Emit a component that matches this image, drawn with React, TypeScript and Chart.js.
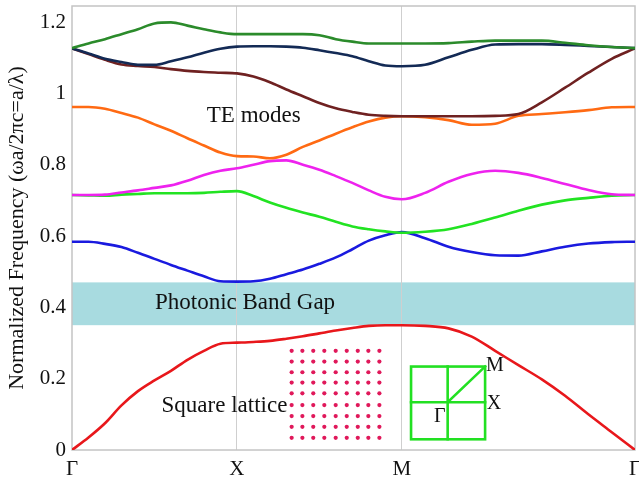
import React, { useEffect, useRef } from "react";
import { Chart, registerables } from "chart.js";

Chart.register(...registerables);

// Wave-vector path positions: Γ(0) → X(1) → M(2) → Γ(2+√2)
const K = [
  0, 0.1, 0.2, 0.3, 0.4, 0.5, 0.6, 0.7, 0.8, 0.9, 1.0,
  1.1, 1.2, 1.3, 1.4, 1.5, 1.6, 1.7, 1.8, 1.9, 2.0,
  2.141, 2.283, 2.424, 2.566, 2.707, 2.849, 2.99, 3.131, 3.273, 3.414,
];
const K_TICKS = [0, 1, 2, 3.414];
const K_LABELS = ["Γ", "X", "M", "Γ"];
const Y_TICKS = [0, 0.2, 0.4, 0.6, 0.8, 1, 1.2];
const Y_MAX = 1.245;

const BAND1 = [0, 0.035, 0.075, 0.125, 0.165, 0.195, 0.222, 0.253, 0.278, 0.298, 0.301,
  0.303, 0.306, 0.312, 0.319, 0.327, 0.335, 0.342, 0.348, 0.35, 0.35,
  0.348, 0.341, 0.318, 0.278, 0.238, 0.198, 0.152, 0.1, 0.05, 0];
const BAND2 = [0.584, 0.584, 0.578, 0.569, 0.553, 0.536, 0.519, 0.503, 0.487, 0.473, 0.472,
  0.473, 0.48, 0.493, 0.506, 0.522, 0.54, 0.563, 0.587, 0.602, 0.611,
  0.594, 0.57, 0.555, 0.546, 0.545, 0.557, 0.57, 0.579, 0.583, 0.584];
const BAND3 = [0.715, 0.714, 0.713, 0.716, 0.718, 0.72, 0.72, 0.72, 0.721, 0.724, 0.726,
  0.712, 0.694, 0.679, 0.666, 0.654, 0.64, 0.627, 0.619, 0.613, 0.609,
  0.612, 0.619, 0.634, 0.652, 0.671, 0.688, 0.7, 0.707, 0.713, 0.715];
const BAND4 = [0.715, 0.715, 0.716, 0.722, 0.728, 0.735, 0.742, 0.755, 0.771, 0.783, 0.79,
  0.8, 0.81, 0.812, 0.8, 0.786, 0.768, 0.749, 0.728, 0.71, 0.703,
  0.721, 0.752, 0.774, 0.783, 0.777, 0.763, 0.746, 0.729, 0.717, 0.715];
const BAND5 = [0.962, 0.962, 0.957, 0.945, 0.932, 0.913, 0.895, 0.874, 0.854, 0.834, 0.824,
  0.823, 0.818, 0.828, 0.85, 0.868, 0.887, 0.905, 0.921, 0.932, 0.936,
  0.933, 0.925, 0.912, 0.915, 0.937, 0.942, 0.947, 0.953, 0.961, 0.962];
const BAND6 = [1.126, 1.11, 1.094, 1.081, 1.077, 1.074, 1.068, 1.063, 1.06, 1.058, 1.056,
  1.047, 1.031, 1.011, 0.992, 0.973, 0.958, 0.948, 0.94, 0.937, 0.936,
  0.936, 0.936, 0.936, 0.937, 0.942, 0.975, 1.016, 1.058, 1.097, 1.126];
const BAND7 = [1.126, 1.112, 1.097, 1.088, 1.08, 1.08, 1.09, 1.101, 1.114, 1.125, 1.131,
  1.132, 1.132, 1.131, 1.128, 1.121, 1.113, 1.104, 1.09, 1.078, 1.076,
  1.08, 1.101, 1.122, 1.137, 1.138, 1.138, 1.136, 1.133, 1.13, 1.127];
const BAND8 = [1.127, 1.14, 1.152, 1.166, 1.18, 1.196, 1.199, 1.19, 1.18, 1.171, 1.166,
  1.166, 1.166, 1.166, 1.166, 1.163, 1.152, 1.145, 1.14, 1.14, 1.14,
  1.14, 1.141, 1.145, 1.148, 1.148, 1.148, 1.142, 1.135, 1.13, 1.127];

const BANDS = [BAND1, BAND2, BAND3, BAND4, BAND5, BAND6, BAND7, BAND8];
const BAND_COLORS = ["#e8171b", "#1a1adf", "#22e322", "#ee22ee", "#ff6a13", "#6f2121", "#132a55", "#2b8b2b"];

// Photonic band gap (normalized frequency)
const GAP = [0.35, 0.47];
const GAP_COLOR = "#a8dbe0";

// Square lattice illustration (rod positions in plot coordinates)
const DOT_K = [1.332, 1.397, 1.463, 1.53, 1.599, 1.666, 1.733, 1.797, 1.864];
const DOT_F = [0.278, 0.248, 0.218, 0.189, 0.159, 0.126, 0.095, 0.065, 0.034];
const DOT_COLOR = "#e0185a";

// Brillouin zone inset
const INSET_K = [2.056, 2.278, 2.505];
const INSET_F = [0.03, 0.134, 0.234];
const INSET_COLOR = "#22e022";
const INSET_LABELS = [
  { text: "M", k: 2.51, f: 0.236 },
  { text: "X", k: 2.515, f: 0.129 },
  { text: "Γ", k: 2.195, f: 0.093 },
];

const NOTES = [
  { text: "TE modes", k: 1.102, f: 0.936, align: "center" },
  { text: "Photonic Band Gap", k: 0.503, f: 0.412, align: "left" },
  { text: "Square lattice", k: 1.306, f: 0.123, align: "right" },
];

const FONT = "'Liberation Serif', 'Times New Roman', serif";

const overlay = {
  id: "overlay",
  beforeDraw(chart: any) {
    const { ctx, chartArea: a, scales } = chart;
    const y = scales.y;
    const yt = y.getPixelForValue(GAP[1]);
    const yb = y.getPixelForValue(GAP[0]);
    ctx.save();
    ctx.fillStyle = GAP_COLOR;
    ctx.fillRect(a.left, yt, a.right - a.left, yb - yt);
    ctx.restore();
  },
  beforeDatasetsDraw(chart: any) {
    const { ctx, chartArea: a } = chart;
    ctx.save();
    ctx.strokeStyle = "#c4c4c4";
    ctx.lineWidth = 1.5;
    ctx.strokeRect(a.left, a.top, a.right - a.left, a.bottom - a.top);
    ctx.restore();
  },
  afterDatasetsDraw(chart: any) {
    const { ctx, scales } = chart;
    const x = scales.x;
    const y = scales.y;
    ctx.save();
    // inset
    const xs = INSET_K.map((v) => x.getPixelForValue(v));
    const ys = INSET_F.map((v) => y.getPixelForValue(v));
    ctx.strokeStyle = INSET_COLOR;
    ctx.lineWidth = 2.6;
    ctx.lineCap = "square";
    ctx.strokeRect(xs[0], ys[2], xs[2] - xs[0], ys[0] - ys[2]);
    ctx.beginPath();
    ctx.moveTo(xs[0], ys[1]);
    ctx.lineTo(xs[2], ys[1]);
    ctx.moveTo(xs[1], ys[0]);
    ctx.lineTo(xs[1], ys[2]);
    ctx.moveTo(xs[1], ys[1]);
    ctx.lineTo(xs[2], ys[2]);
    ctx.stroke();
    ctx.fillStyle = "#111";
    ctx.font = `20px ${FONT}`;
    ctx.textBaseline = "middle";
    ctx.textAlign = "left";
    for (const l of INSET_LABELS) {
      ctx.fillText(l.text, x.getPixelForValue(l.k), y.getPixelForValue(l.f));
    }
    // notes
    ctx.font = `23px ${FONT}`;
    for (const n of NOTES) {
      ctx.textAlign = n.align as CanvasTextAlign;
      ctx.fillText(n.text, x.getPixelForValue(n.k), y.getPixelForValue(n.f));
    }
    ctx.restore();
  },
};

export default function App() {
  const ref = useRef<HTMLCanvasElement | null>(null);

  useEffect(() => {
    document.body.style.margin = "0";
    const canvas = ref.current;
    if (!canvas) return;

    const datasets: any[] = BANDS.map((band, i) => ({
      label: `Band ${i + 1}`,
      data: K.map((k, j) => ({ x: k, y: band[j] })),
      borderColor: BAND_COLORS[i],
      borderWidth: 2.6,
      pointRadius: 0,
      cubicInterpolationMode: "monotone",
      fill: false,
      order: 8 - i,
    }));
    datasets.push({
      label: "lattice",
      data: DOT_F.flatMap((f) => DOT_K.map((k) => ({ x: k, y: f }))),
      showLine: false,
      pointRadius: 2.1,
      pointBorderWidth: 0,
      pointBackgroundColor: DOT_COLOR,
      borderColor: DOT_COLOR,
      order: 0,
    });

    const chart = new Chart(canvas, {
      type: "line",
      data: { datasets },
      plugins: [overlay],
      options: {
        animation: false,
        responsive: false,
        devicePixelRatio: 1,
        layout: { padding: { top: 6, right: 4, left: 0, bottom: 0 } },
        plugins: { legend: { display: false }, tooltip: { enabled: false } },
        scales: {
          x: {
            type: "linear",
            min: 0,
            max: K_TICKS[K_TICKS.length - 1],
            afterBuildTicks: (s: any) => {
              s.ticks = K_TICKS.map((v) => ({ value: v }));
            },
            afterFit: (s: any) => {
              s.height = 31;
              s.paddingLeft = 0;
              s.paddingRight = 0;
            },
            border: { display: false },
            grid: {
              drawTicks: false,
              color: (c: any) =>
                c.tick && (c.tick.value === 1 || c.tick.value === 2) ? "#cfcfcf" : "rgba(0,0,0,0)",
              lineWidth: 1,
            },
            ticks: {
              autoSkip: false,
              maxRotation: 0,
              padding: 7,
              color: "#111",
              font: { family: FONT, size: 21 },
              callback: (v: any) => {
                const i = K_TICKS.indexOf(Number(v));
                return i >= 0 ? K_LABELS[i] : "";
              },
            },
          },
          y: {
            type: "linear",
            min: 0,
            max: Y_MAX,
            afterBuildTicks: (s: any) => {
              s.ticks = Y_TICKS.map((v) => ({ value: v }));
            },
            afterFit: (s: any) => {
              s.width = 72;
              s.paddingTop = 0;
              s.paddingBottom = 0;
            },
            border: { display: false },
            grid: { display: false, drawTicks: false },
            ticks: {
              padding: 6,
              color: "#111",
              font: { family: FONT, size: 21 },
              callback: (v: any) => String(Number(v)),
            },
            title: {
              display: true,
              text: "Normalized Frequency (ωa/2πc=a/λ)",
              color: "#111",
              font: { family: FONT, size: 22 },
              padding: { top: 4, bottom: 0 },
            },
          },
        },
      },
    });
    return () => chart.destroy();
  }, []);

  return (
    <div style={{ width: 639, height: 481 }}>
      <canvas ref={ref} width={639} height={481} style={{ display: "block" }} />
    </div>
  );
}
